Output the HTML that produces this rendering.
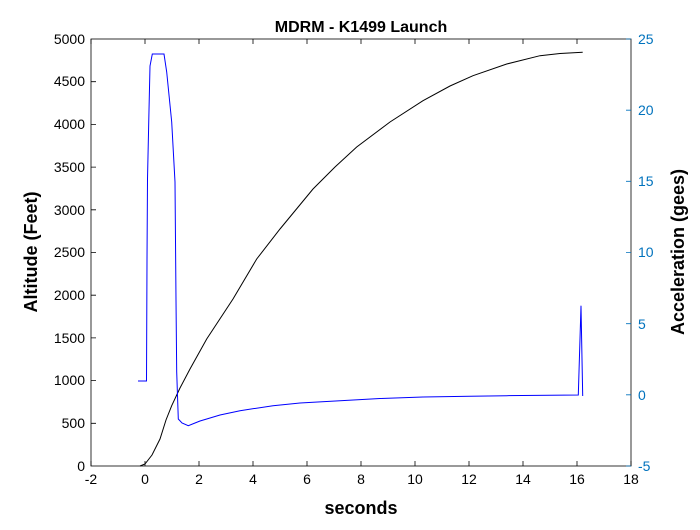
<!DOCTYPE html>
<html><head><style>body{margin:0;background:#fff}</style></head><body>
<svg width="700" height="525" xmlns="http://www.w3.org/2000/svg" font-family="Liberation Sans, sans-serif">
<rect width="700" height="525" fill="#fff"/>
<rect x="91" y="39" width="540" height="427" fill="none" stroke="#000" stroke-width="0.8"/>
<g stroke="#000" stroke-width="0.8">
<path d="M91,466v-5M145,466v-5M199,466v-5M253,466v-5M307,466v-5M361,466v-5M415,466v-5M469,466v-5M523,466v-5M577,466v-5M631,466v-5"/>
<path d="M91,39v5M145,39v5M199,39v5M253,39v5M307,39v5M361,39v5M415,39v5M469,39v5M523,39v5M577,39v5"/>
<path d="M91,423.3h5M91,380.6h5M91,337.9h5M91,295.2h5M91,252.5h5M91,209.8h5M91,167.1h5M91,124.4h5M91,81.7h5"/>
</g>
<g stroke="#0072BD" stroke-width="0.8"><path d="M631,466h-5M631,394.8h-5M631,323.7h-5M631,252.5h-5M631,181.3h-5M631,110.2h-5M631,39h-5"/></g>
<g font-size="14" text-anchor="middle" fill="#000">
<text x="91" y="484">-2</text><text x="145" y="484">0</text><text x="199" y="484">2</text><text x="253" y="484">4</text><text x="307" y="484">6</text><text x="361" y="484">8</text><text x="415" y="484">10</text><text x="469" y="484">12</text><text x="523" y="484">14</text><text x="577" y="484">16</text><text x="631" y="484">18</text>
</g>
<g font-size="14" text-anchor="end" fill="#000">
<text x="85" y="471">0</text><text x="85" y="428">500</text><text x="85" y="385">1000</text><text x="85" y="343">1500</text><text x="85" y="300">2000</text><text x="85" y="257">2500</text><text x="85" y="215">3000</text><text x="85" y="172">3500</text><text x="85" y="129">4000</text><text x="85" y="86">4500</text><text x="85" y="44">5000</text>
</g>
<g font-size="14" fill="#0072BD">
<text x="638" y="471">-5</text><text x="638" y="400">0</text><text x="638" y="329">5</text><text x="638" y="257">10</text><text x="638" y="186">15</text><text x="638" y="115">20</text><text x="638" y="44">25</text>
</g>
<text x="361" y="32" font-size="16" font-weight="bold" text-anchor="middle">MDRM - K1499 Launch</text>
<text x="361" y="514" font-size="18" font-weight="bold" text-anchor="middle">seconds</text>
<text transform="translate(37,252) rotate(-90)" font-size="18" font-weight="bold" text-anchor="middle">Altitude (Feet)</text>
<text transform="translate(684,252) rotate(-90)" font-size="18" font-weight="bold" text-anchor="middle">Acceleration (gees)</text>
<path fill="none" stroke="#000" stroke-width="1" d="M140,466 L145,464 L152,455 L160,439 L166,420 L171.7,405.7 L180,388 L190,369 L206.7,339 L233,299 L256.7,259 L280,229 L313,189 L335,167 L356.7,147 L390,122 L423,100.7 L450,86 L473,75.7 L506.7,64 L540,55.7 L560,53.5 L582.7,52.3"/>
<path fill="none" stroke="#0000ff" stroke-width="1" d="M138,381 L146.5,381 L147,260 L147.5,179 L149,110 L150,66 L152.3,54 L164,54 L166.7,72 L169,95 L171.7,122 L175,182 L176,300 L176.7,372 L178.3,419 L182,423 L188.3,425.7 L195,423 L200,421 L206.7,419 L220,415 L240,410.7 L273,405.7 L300,403 L340,400.7 L380,398.5 L423,397 L470,396.2 L506.7,395.7 L578.3,395 L581,305.7 L582.7,396"/>
</svg>
</body></html>
